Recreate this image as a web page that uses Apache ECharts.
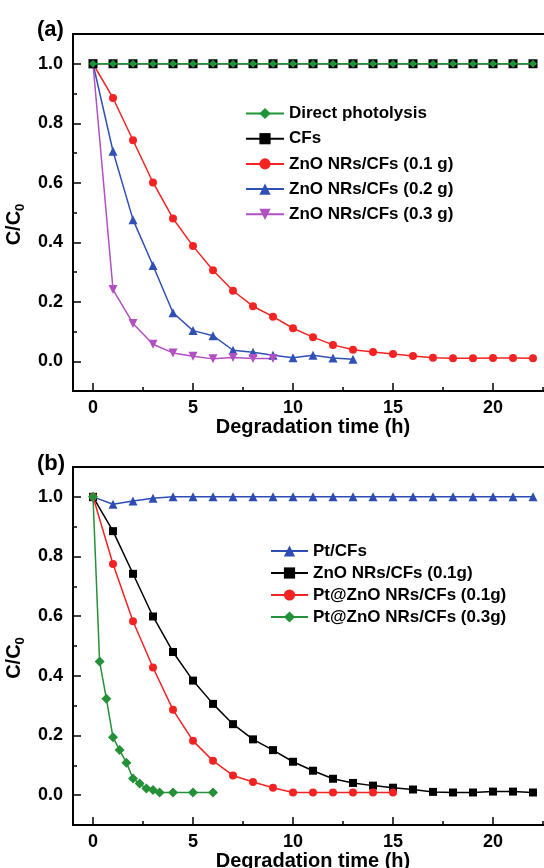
<!DOCTYPE html>
<html>
<head>
<meta charset="utf-8">
<script src="https://cdn.jsdelivr.net/npm/echarts@6/dist/echarts.min.js"></script>
<style>
  html, body { margin: 0; padding: 0; background: #fff; }
  #chart { width: 544px; height: 868px; }
</style>
</head>
<body>
<div id="chart"></div>
<script>
'use strict';

// panel (a)
var hoursA = [0, 1, 2, 3, 4, 5, 6, 7, 8, 9, 10, 11, 12, 13, 14, 15, 16, 17, 18, 19, 20, 21, 22];
var photolysisA = [1, 1, 1, 1, 1, 1, 1, 1, 1, 1, 1, 1, 1, 1, 1, 1, 1, 1, 1, 1, 1, 1, 1];
var cfsA = [1, 1, 1, 1, 1, 1, 1, 1, 1, 1, 1, 1, 1, 1, 1, 1, 1, 1, 1, 1, 1, 1, 1];
var zno01A = [1.0, 0.885, 0.743, 0.601, 0.480, 0.387, 0.306, 0.237, 0.185, 0.150, 0.111, 0.081, 0.055, 0.039, 0.031, 0.024, 0.018, 0.012, 0.010, 0.010, 0.011, 0.011, 0.010];
var zno02A = [1.0, 0.706, 0.476, 0.322, 0.163, 0.103, 0.086, 0.037, 0.030, 0.020, 0.012, 0.020, 0.011, 0.007];
var zno03A = [1.0, 0.241, 0.127, 0.057, 0.028, 0.017, 0.008, 0.013, 0.009, 0.009];

// panel (b)
var hoursB = hoursA;
var ptB = [1.0, 0.975, 0.986, 0.995, 1, 1, 1, 1, 1, 1, 1, 1, 1, 1, 1, 1, 1, 1, 1, 1, 1, 1, 1];
var znoB = [1.0, 0.885, 0.742, 0.599, 0.480, 0.384, 0.306, 0.238, 0.187, 0.151, 0.112, 0.082, 0.055, 0.041, 0.032, 0.025, 0.019, 0.011, 0.009, 0.009, 0.012, 0.012, 0.009];
var pt01B = [1.0, 0.775, 0.583, 0.428, 0.286, 0.182, 0.115, 0.066, 0.044, 0.025, 0.009, 0.009, 0.009, 0.009, 0.009, 0.009];
var pt03Hours = [0, 0.33, 0.67, 1, 1.33, 1.67, 2, 2.33, 2.67, 3, 3.33, 4, 5, 6];
var pt03B = [1.0, 0.448, 0.323, 0.194, 0.151, 0.109, 0.056, 0.039, 0.022, 0.017, 0.009, 0.009, 0.009, 0.009];

var xMajor = [0, 5, 10, 15, 20];
var xMinor = [2.5, 7.5, 12.5, 17.5, 22.5];
var yMajor = [0, 0.2, 0.4, 0.6, 0.8, 1.0];
var yMinor = [0.1, 0.3, 0.5, 0.7, 0.9];

var FONT = '"Liberation Sans", Arial, sans-serif';
var tickStyle = { color: '#000', width: 1.5 };

function pairs(xs, ys) {
  return ys.map(function (v, i) { return [xs[i], v]; });
}

// tick-only axis, laid on top of the main one
function tickAxis(grid, pos, min, max, values, len) {
  return {
    type: 'value', gridIndex: grid, position: pos, min: min, max: max,
    axisLine: { show: false, onZero: false },
    axisTick: { show: true, inside: true, length: len, customValues: values, lineStyle: tickStyle },
    axisLabel: { show: false },
    splitLine: { show: false }
  };
}

function xAxes(grid) {
  return [{
    type: 'value', gridIndex: grid, position: 'bottom', min: -1, max: 23,
    name: 'Degradation time (h)', nameLocation: 'middle', nameGap: 24,
    nameTextStyle: { fontFamily: FONT, fontWeight: 'bold', fontSize: 20, color: '#000' },
    axisLine: { show: true, onZero: false, lineStyle: { color: '#000', width: 2 } },
    axisTick: { show: false },
    axisLabel: { customValues: xMajor, margin: 8, fontFamily: FONT, fontWeight: 'bold', fontSize: 18, color: '#000' },
    splitLine: { show: false }
  },
  tickAxis(grid, 'bottom', -1, 23, xMajor, 8),
  tickAxis(grid, 'bottom', -1, 23, xMinor, 4)];
}

function yAxes(grid) {
  return [{
    type: 'value', gridIndex: grid, position: 'left', min: -0.1, max: 1.1,
    name: 'C/C{s|0}', nameLocation: 'middle', nameGap: 40, nameRotate: 90,
    nameTextStyle: {
      fontFamily: FONT, fontWeight: 'bold', fontSize: 20, color: '#000', padding: [0, 24, 0, 0],
      rich: { s: { fontFamily: FONT, fontWeight: 'bold', fontSize: 13, color: '#000', padding: [12, 0, 0, 0] } }
    },
    axisLine: { show: true, onZero: false, lineStyle: { color: '#000', width: 2 } },
    axisTick: { show: false },
    axisLabel: {
      customValues: yMajor, margin: 10, fontFamily: FONT, fontWeight: 'bold', fontSize: 18, color: '#000',
      formatter: function (v) { return v.toFixed(1); }
    },
    splitLine: { show: false }
  },
  tickAxis(grid, 'left', -0.1, 1.1, yMajor, 8),
  tickAxis(grid, 'left', -0.1, 1.1, yMinor, 4)];
}

function line(name, axis, data, color, symbol, size, z) {
  return {
    name: name, type: 'line', xAxisIndex: axis, yAxisIndex: axis, data: data,
    symbol: symbol, symbolSize: size, z: z, animation: false,
    lineStyle: { color: color, width: 1.5 },
    itemStyle: { color: color }
  };
}

var legendText = { fontFamily: FONT, fontWeight: 'bold', fontSize: 17, color: '#000', lineHeight: 17 };

var chart = echarts.init(document.getElementById('chart'));
chart.setOption({
  backgroundColor: '#fff',
  animation: false,
  title: [
    { text: '(a)', left: 32, top: 14, textStyle: { fontFamily: FONT, fontWeight: 'bold', fontSize: 22, color: '#000' } },
    { text: '(b)', left: 32, top: 448, textStyle: { fontFamily: FONT, fontWeight: 'bold', fontSize: 22, color: '#000' } }
  ],
  grid: [
    { left: 73, top: 34, width: 480, height: 357, outerBoundsMode: 'none', show: true, borderColor: '#000', borderWidth: 2 },
    { left: 73, top: 467, width: 480, height: 358, outerBoundsMode: 'none', show: true, borderColor: '#000', borderWidth: 2 }
  ],
  legend: [{
    left: 245, top: 105, padding: 0, orient: 'vertical', itemWidth: 38, itemHeight: 14, itemGap: 8.2,
    textStyle: legendText,
    data: ['Direct photolysis', 'CFs', 'ZnO NRs/CFs (0.1 g)', 'ZnO NRs/CFs (0.2 g)', 'ZnO NRs/CFs (0.3 g)']
  }, {
    left: 270, top: 542.5, padding: 0, orient: 'vertical', itemWidth: 37, itemHeight: 14, itemGap: 5,
    textStyle: legendText,
    data: ['Pt/CFs', 'ZnO NRs/CFs (0.1g)', 'Pt@ZnO NRs/CFs (0.1g)', 'Pt@ZnO NRs/CFs (0.3g)']
  }],
  xAxis: xAxes(0).concat(xAxes(1)),
  yAxis: yAxes(0).concat(yAxes(1)),
  series: [
    line('CFs', 0, pairs(hoursA, cfsA), '#000000', 'rect', 9, 3),
    line('Direct photolysis', 0, pairs(hoursA, photolysisA), '#1e9438', 'diamond', 8, 4),
    line('ZnO NRs/CFs (0.1 g)', 0, pairs(hoursA, zno01A), '#f42323', 'circle', 8, 2),
    line('ZnO NRs/CFs (0.2 g)', 0, pairs(hoursA, zno02A), '#3050b4', 'triangle', 9, 2),
    line('ZnO NRs/CFs (0.3 g)', 0, pairs(hoursA, zno03A), '#b24fc2', 'path://M0,0L10,0L5,9Z', 9, 2),

    line('Pt/CFs', 3, pairs(hoursB, ptB), '#2d4db3', 'triangle', 9, 2),
    line('ZnO NRs/CFs (0.1g)', 3, pairs(hoursB, znoB), '#000000', 'rect', 8, 2),
    line('Pt@ZnO NRs/CFs (0.1g)', 3, pairs(hoursB, pt01B), '#f42323', 'circle', 8, 3),
    line('Pt@ZnO NRs/CFs (0.3g)', 3, pairs(pt03Hours, pt03B), '#249038', 'diamond', 10, 4)
  ]
});
</script>
</body>
</html>
